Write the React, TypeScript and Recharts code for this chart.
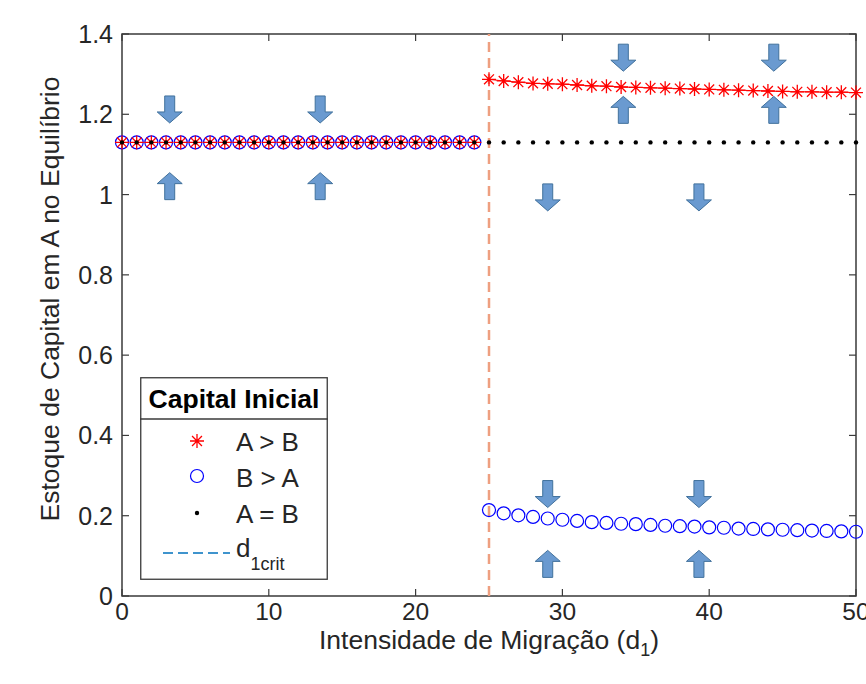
import React from 'react';
import { ComposedChart, Scatter, XAxis, YAxis, ReferenceLine, ReferenceArea, Legend } from 'recharts';

// ---------- data ----------
const d1Values = [
  0, 1, 2, 3, 4, 5, 6, 7, 8, 9, 10, 11, 12, 13, 14, 15, 16, 17, 18, 19, 20, 21, 22, 23, 24,
  25, 26, 27, 28, 29, 30, 31, 32, 33, 34, 35, 36, 37, 38, 39, 40, 41, 42, 43, 44, 45, 46, 47, 48, 49, 50,
];
const capitalAgtB = [
  1.13, 1.13, 1.13, 1.13, 1.13, 1.13, 1.13, 1.13, 1.13, 1.13, 1.13, 1.13, 1.13, 1.13, 1.13, 1.13, 1.13, 1.13, 1.13, 1.13, 1.13, 1.13, 1.13, 1.13, 1.13,
  1.287, 1.283, 1.28, 1.277, 1.276, 1.275, 1.273, 1.271, 1.27, 1.268, 1.267, 1.266, 1.265, 1.264, 1.263, 1.262, 1.261, 1.26, 1.259, 1.258, 1.257, 1.256, 1.256, 1.255, 1.255, 1.254,
];
const capitalBgtA = [
  1.13, 1.13, 1.13, 1.13, 1.13, 1.13, 1.13, 1.13, 1.13, 1.13, 1.13, 1.13, 1.13, 1.13, 1.13, 1.13, 1.13, 1.13, 1.13, 1.13, 1.13, 1.13, 1.13, 1.13, 1.13,
  0.214, 0.206, 0.201, 0.197, 0.193, 0.19, 0.187, 0.184, 0.182, 0.18, 0.179, 0.177, 0.175, 0.174, 0.173, 0.171, 0.17, 0.168, 0.167, 0.166, 0.165, 0.164, 0.163, 0.162, 0.161, 0.16,
];
const capitalAeqB = [
  1.13, 1.13, 1.13, 1.13, 1.13, 1.13, 1.13, 1.13, 1.13, 1.13, 1.13, 1.13, 1.13, 1.13, 1.13, 1.13, 1.13, 1.13, 1.13, 1.13, 1.13, 1.13, 1.13, 1.13, 1.13,
  1.13, 1.13, 1.13, 1.13, 1.13, 1.13, 1.13, 1.13, 1.13, 1.13, 1.13, 1.13, 1.13, 1.13, 1.13, 1.13, 1.13, 1.13, 1.13, 1.13, 1.13, 1.13, 1.13, 1.13, 1.13, 1.13,
];
const d1Crit = 25;

const xTicks = [0, 10, 20, 30, 40, 50];
const xTickLabels = ['0', '10', '20', '30', '40', '50'];
const yTicks = [0, 0.2, 0.4, 0.6, 0.8, 1, 1.2, 1.4];
const yTickLabels = ['0', '0.2', '0.4', '0.6', '0.8', '1', '1.2', '1.4'];

const arrowDownX = [3.25, 13.5, 34.15, 44.4, 29.0, 39.3, 29.0, 39.3];
const arrowDownY = [1.212, 1.212, 1.341, 1.341, 0.993, 0.993, 0.254, 0.254];
const arrowUpX = [3.25, 13.5, 34.15, 44.4, 29.0, 39.3];
const arrowUpY = [1.021, 1.021, 1.211, 1.211, 0.08, 0.08];

const legendTitle = 'Capital Inicial';
const seriesNames = ['A > B', 'B > A', 'A = B'];

// ---------- layout / style ----------
const W = 866;
const H = 684;
const PLOT_LEFT = 122;
const PLOT_RIGHT = 856;
const PLOT_TOP = 34;
const PLOT_BOTTOM = 596;
const FONT = "'Liberation Sans', Arial, Helvetica, sans-serif";
const TEXT = '#262626';
const AXIS = '#3a3a3a';
const TICK_LEN = 7;

const pts = (xs: number[], ys: number[]) => xs.map((x, i) => ({ x, y: ys[i] }));
const redLeft = pts(d1Values, capitalAgtB).filter((p) => p.x < d1Crit);
const redRight = pts(d1Values, capitalAgtB).filter((p) => p.x >= d1Crit);
const blueAll = pts(d1Values, capitalBgtA);
const blackAll = pts(d1Values, capitalAeqB);
const downArrows = pts(arrowDownX, arrowDownY);
const upArrows = pts(arrowUpX, arrowUpY);

// ---------- shapes ----------
const starPath = (cx: number, cy: number, r: number) => {
  const d = r * 0.7071;
  return `M${cx - r},${cy}L${cx + r},${cy}M${cx},${cy - r}L${cx},${cy + r}M${cx - d},${cy - d}L${cx + d},${cy + d}M${cx - d},${cy + d}L${cx + d},${cy - d}`;
};

const StarShape = (props: any) => {
  const { cx, cy } = props;
  if (cx == null || cy == null) return <g />;
  return <path d={starPath(cx, cy, 7)} stroke="#FF0000" strokeWidth={1.3} fill="none" />;
};
const CircleShape = (props: any) => {
  const { cx, cy } = props;
  if (cx == null || cy == null) return <g />;
  return <circle cx={cx} cy={cy} r={6.5} stroke="#0000FF" strokeWidth={1.2} fill="none" />;
};
const DotShape = (props: any) => {
  const { cx, cy } = props;
  if (cx == null || cy == null) return <g />;
  return <circle cx={cx} cy={cy} r={2.2} fill="#000000" />;
};

const ARROW_FILL = '#6A9AD0';
const ARROW_STROKE = '#41719C';
const arrowPoints = (cx: number, cy: number, dir: 1 | -1) => {
  // dir 1 = pointing down, -1 = pointing up
  const hw = 12.5;
  const sw = 5;
  const half = 13.5;
  const headBase = 2.5;
  const p = [
    [cx - sw, cy - dir * half],
    [cx + sw, cy - dir * half],
    [cx + sw, cy + dir * headBase],
    [cx + hw, cy + dir * headBase],
    [cx, cy + dir * half],
    [cx - hw, cy + dir * headBase],
    [cx - sw, cy + dir * headBase],
  ];
  return p.map((q) => q.join(',')).join(' ');
};
const DownArrow = (props: any) => {
  const { cx, cy } = props;
  if (cx == null || cy == null) return <g />;
  return <polygon points={arrowPoints(cx, cy, 1)} fill={ARROW_FILL} stroke={ARROW_STROKE} strokeWidth={1} />;
};
const UpArrow = (props: any) => {
  const { cx, cy } = props;
  if (cx == null || cy == null) return <g />;
  return <polygon points={arrowPoints(cx, cy, -1)} fill={ARROW_FILL} stroke={ARROW_STROKE} strokeWidth={1} />;
};

// ---------- axes ----------
const XTick = (props: any) => {
  const { x, payload, index } = props;
  const label = xTickLabels[index] ?? String(payload.value);
  return (
    <g>
      <line x1={x} x2={x} y1={PLOT_BOTTOM} y2={PLOT_BOTTOM - TICK_LEN} stroke={AXIS} strokeWidth={1.2} />
      <line x1={x} x2={x} y1={PLOT_TOP} y2={PLOT_TOP + TICK_LEN} stroke={AXIS} strokeWidth={1.2} />
      <text x={x} y={PLOT_BOTTOM + 24} textAnchor="middle" fontFamily={FONT} fontSize={24.5} fill={TEXT}>
        {label}
      </text>
    </g>
  );
};
const YTick = (props: any) => {
  const { y, payload, index } = props;
  const label = yTickLabels[index] ?? String(payload.value);
  return (
    <g>
      <line x1={PLOT_LEFT} x2={PLOT_LEFT + TICK_LEN} y1={y} y2={y} stroke={AXIS} strokeWidth={1.2} />
      <line x1={PLOT_RIGHT} x2={PLOT_RIGHT - TICK_LEN} y1={y} y2={y} stroke={AXIS} strokeWidth={1.2} />
      <text x={PLOT_LEFT - 9} y={y + 9} textAnchor="end" fontFamily={FONT} fontSize={25} fill={TEXT}>
        {label}
      </text>
    </g>
  );
};
const XTitle = () => (
  <text x={(PLOT_LEFT + PLOT_RIGHT) / 2} y={649} textAnchor="middle" fontFamily={FONT} fontSize={26.5} fill={TEXT}>
    Intensidade de Migração (d
    <tspan fontSize={18} dy={7}>1</tspan>
    <tspan dy={-7}>)</tspan>
  </text>
);
const YTitle = () => (
  <text
    x={0}
    y={0}
    transform={`translate(59, ${(PLOT_TOP + PLOT_BOTTOM) / 2 - 16}) rotate(-90)`}
    textAnchor="middle"
    fontFamily={FONT}
    fontSize={26.5}
    fill={TEXT}
  >
    Estoque de Capital em A no Equilíbrio
  </text>
);

// ---------- legend ----------
const LEG_W = 188;
const LEG_H = 203;
const LegendBox = () => {
  const mx = 57;
  const tx = 96;
  const rows = [64, 99, 136];
  const baselines = [74, 110, 146];
  return (
    <svg width={LEG_W} height={LEG_H} style={{ display: 'block', overflow: 'visible' }}>
      <rect x={0.75} y={0.75} width={LEG_W - 1.5} height={LEG_H - 1.5} fill="#FFFFFF" stroke={AXIS} strokeWidth={1.3} />
      <text x={LEG_W / 2} y={31} textAnchor="middle" fontFamily={FONT} fontWeight="bold" fontSize={26.5} fill="#000000">
        {legendTitle}
      </text>
      <line x1={0} x2={LEG_W} y1={42} y2={42} stroke={AXIS} strokeWidth={1.3} />
      <path d={starPath(mx, rows[0], 7)} stroke="#FF0000" strokeWidth={1.3} fill="none" />
      <circle cx={mx} cy={rows[1]} r={6.5} stroke="#0000FF" strokeWidth={1.2} fill="none" />
      <circle cx={mx} cy={rows[2]} r={2.2} fill="#000000" />
      {seriesNames.map((n, i) => (
        <text key={n} x={tx} y={baselines[i]} fontFamily={FONT} fontSize={26} fill={TEXT}>
          {n}
        </text>
      ))}
      <line x1={23} x2={90} y1={176} y2={176} stroke="#0072BD" strokeWidth={1.5} strokeDasharray="10 5" />
      <text x={tx} y={180} fontFamily={FONT} fontSize={26} fill={TEXT}>
        d
        <tspan fontSize={18} dy={13}>1crit</tspan>
      </text>
    </svg>
  );
};

export default function App() {
  return (
    <div style={{ position: 'absolute', left: 0, top: 0, width: W, height: H, background: '#FFFFFF' }}>
      <ComposedChart
        width={W}
        height={H}
        margin={{ top: PLOT_TOP, right: W - PLOT_RIGHT, left: 0, bottom: 0 }}
      >
        <XAxis
          dataKey="x"
          type="number"
          domain={[0, 50]}
          ticks={xTicks}
          interval={0}
          axisLine={false}
          tickLine={false}
          height={H - PLOT_BOTTOM}
          tick={XTick}
          label={<XTitle />}
        />
        <YAxis
          dataKey="y"
          type="number"
          domain={[0, 1.4]}
          ticks={yTicks}
          interval={0}
          axisLine={false}
          tickLine={false}
          width={PLOT_LEFT}
          tick={YTick}
          label={<YTitle />}
        />
        <ReferenceArea x1={0} x2={50} y1={0} y2={1.4} fill="none" stroke={AXIS} strokeWidth={1.5} />
        <ReferenceLine x={d1Crit} stroke="#EE9F80" strokeWidth={2.5} strokeDasharray="10 6" />
        <Scatter data={blueAll} shape={CircleShape} isAnimationActive={false} legendType="none" />
        <Scatter data={redLeft} shape={StarShape} isAnimationActive={false} legendType="none" />
        <Scatter
          data={redRight}
          shape={StarShape}
          line={{ stroke: '#FF0000', strokeWidth: 1 }}
          isAnimationActive={false}
          legendType="none"
        />
        <Scatter data={blackAll} shape={DotShape} isAnimationActive={false} legendType="none" />
        <Scatter data={downArrows} shape={DownArrow} isAnimationActive={false} legendType="none" />
        <Scatter data={upArrows} shape={UpArrow} isAnimationActive={false} legendType="none" />
        <Legend
          layout="vertical"
          align="center"
          verticalAlign="middle"
          content={LegendBox}
          wrapperStyle={{ position: 'absolute', left: 140, top: 377, width: LEG_W, height: LEG_H }}
        />
      </ComposedChart>
    </div>
  );
}
